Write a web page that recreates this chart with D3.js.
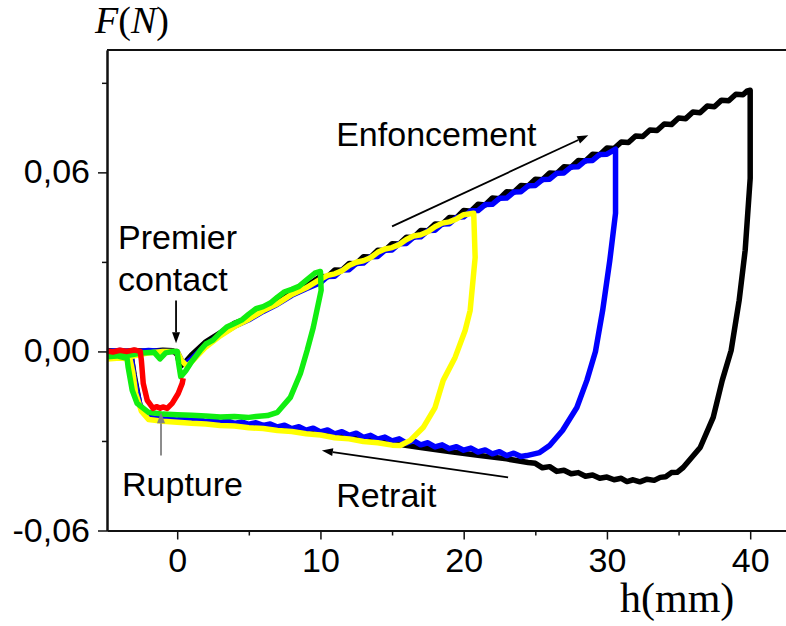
<!DOCTYPE html>
<html>
<head>
<meta charset="utf-8">
<script src="https://cdn.jsdelivr.net/npm/d3@7"></script>
<style>
html,body{margin:0;padding:0;background:#fff;}
svg{display:block;}
</style>
</head>
<body>
<svg id="chart" width="786" height="626"></svg>
<script>
// ---------- data (h in mm, F in N) ----------
const xMajorTicks = [0, 10, 20, 30, 40];
const xMinorTicks = [5, 15, 25, 35];
const yMajorTicks = [-0.06, 0, 0.06];
const yMinorTicks = [-0.03, 0.03, 0.09];

const blackH = [-4.9,-4,-3,-2,-1,-0.3,0,0.2,0.5,1,2,3,4,5,6,7,8,9,
  10,10.5,11,11.5,12,12.5,13,13.5,14,14.5,15,15.5,16,16.5,17,17.5,18,18.5,19,19.5,20,20.5,21,21.5,22,22.5,23,23.5,24,24.5,25,25.5,26,26.5,27,27.5,28,28.5,29,29.5,30,30.5,31,31.5,32,32.5,33,33.5,34,34.5,35,35.5,36,36.5,37,37.5,38,38.5,39,39.5,39.8,40,
  40,39.65,39.23,38.67,38.05,37.42,36.51,35.32,34.9,34.5,34.1,33.72,33.3,32.8,32.3,31.83,31.4,31,30.5,30,29.5,29,28.5,28,27.5,27,26.5,26,25.5,25,24.5,
  23,21,19,17,15,13,11,9,7,5,3,1,0,-1,-2,-2.6,-3,-3.2,-3.5,-4.9];
const blackF = [0.0003,-0.0002,0.0003,0.0,0.0004,0.0002,-0.001,-0.005,-0.004,-0.0012,0.0032,0.0062,0.0094,0.0113,0.0143,0.0166,0.0198,0.0218,
  0.0251,0.0250,0.0273,0.0272,0.0295,0.0294,0.0317,0.0316,0.0339,0.0338,0.0361,0.0360,0.0383,0.0382,0.0405,0.0404,0.0427,0.0426,0.0449,0.0448,0.0472,0.0470,0.0493,0.0491,0.0514,0.0512,0.0535,0.0533,0.0556,0.0554,0.0577,0.0575,0.0598,0.0596,0.0619,0.0617,0.0640,0.0638,0.0661,0.0659,0.0682,0.0680,0.0702,0.0700,0.0722,0.0720,0.0742,0.0740,0.0762,0.0760,0.0782,0.0780,0.0802,0.0800,0.0822,0.0820,0.0842,0.0840,0.0862,0.0860,0.0873,0.0875,
  0.058,0.0339,0.0171,0.0003,-0.0097,-0.0221,-0.0322,-0.0389,-0.0405,-0.0406,-0.0420,-0.0422,-0.0432,-0.0428,-0.0437,-0.0430,-0.0436,-0.0425,-0.0430,-0.0421,-0.0425,-0.0414,-0.0418,-0.0406,-0.0410,-0.0398,-0.0402,-0.0386,-0.0390,-0.0375,-0.0372,
  -0.0360,-0.0348,-0.0335,-0.0322,-0.0308,-0.0295,-0.0280,-0.0268,-0.0258,-0.0250,-0.0242,-0.0236,-0.0232,-0.0228,-0.0222,-0.018,-0.008,-0.002,0.0,0.0];

const blueH = [-4.9,-4,-3,-2,-1,0,0.3,0.6,1,2,3,4,5,6,7,8,9,
  10,10.5,11,11.5,12,12.5,13,13.5,14,14.5,15,15.5,16,16.5,17,17.5,18,18.5,19,19.5,20,20.5,21,21.5,22,22.5,23,23.5,24,24.5,25,25.5,26,26.5,27,27.5,28,28.5,29,29.5,30,30.6,
  30.6,30.2,29.7,29.2,28.6,27.9,26.9,26.0,25.3,24.4,
  24,23.5,23,22.5,22,21.5,21,20.5,20,19.5,19,18.5,18,17.5,17,16.5,16,15.5,15,14.5,14,13.5,13,12.5,12,11.5,11,10.5,10,9.5,9,8.5,8,7.5,7,6.5,6,5.5,5,4.5,4,3.5,3,2.5,2,1.5,1,0.5,0,
  -1,-2,-2.6,-3,-3.2,-3.5,-4.9];
const blueF = [0.0,0.0003,-0.0002,0.0003,0.0,0.0,-0.003,-0.004,-0.0025,0.0022,0.0055,0.0084,0.0106,0.0134,0.0158,0.0188,0.0210,
  0.0230,0.0251,0.0252,0.0273,0.0274,0.0295,0.0296,0.0317,0.0318,0.0339,0.0340,0.0361,0.0362,0.0383,0.0384,0.0405,0.0406,0.0427,0.0428,0.0449,0.0451,0.0471,0.0472,0.0492,0.0493,0.0513,0.0514,0.0534,0.0535,0.0555,0.0556,0.0576,0.0577,0.0597,0.0598,0.0618,0.0619,0.0639,0.0640,0.0660,0.0661,0.0678,
  0.0463,0.0305,0.0137,0.0,-0.0097,-0.0188,-0.0265,-0.0315,-0.0339,-0.0349,
  -0.0352,-0.0341,-0.0349,-0.0336,-0.0343,-0.0330,-0.0337,-0.0324,-0.0331,-0.0319,-0.0326,-0.0313,-0.0320,-0.0306,-0.0313,-0.0299,-0.0307,-0.0293,-0.0300,-0.0287,-0.0294,-0.0281,-0.0288,-0.0274,-0.0281,-0.0269,-0.0276,-0.0263,-0.0270,-0.0257,-0.0264,-0.0252,-0.0259,-0.0247,-0.0253,-0.0243,-0.0248,-0.0239,-0.0244,-0.0236,-0.0241,-0.0233,-0.0238,-0.0231,-0.0235,-0.0228,-0.0233,-0.0226,-0.0230,
  -0.0226,-0.0222,-0.018,-0.009,-0.002,0.0,0.0];

const yellowH = [-4.9,-4,-3,-2,-1,0,0.3,0.7,1,2,3,4,5,6,7,8,9,10,10.5,11,11.5,12,12.5,13,13.5,14,14.5,15,15.5,16,16.5,17,17.5,18,18.5,19,19.5,20,20.7,
  20.8,20.45,20.1,19.4,18.57,18.0,17.17,16.27,15.57,15,14,13,12,11,10,9,8,7,6,5,4,3,2,1,0,-1,-2,-2.5,-2.9,-3.1,-3.3,-4,-4.9];
const yellowF = [-0.0025,-0.0020,-0.0015,-0.0005,0.0,0.0,-0.003,-0.005,-0.0035,0.0015,0.0052,0.0083,0.0108,0.0137,0.0160,0.0191,0.0213,0.0242,0.0255,0.0260,0.0270,0.0288,0.0299,0.0304,0.0314,0.0332,0.0343,0.0348,0.0358,0.0375,0.0387,0.0391,0.0401,0.0418,0.0430,0.0434,0.0444,0.0458,0.0463,
  0.0315,0.0137,0.007,-0.002,-0.0097,-0.0188,-0.0255,-0.0298,-0.0315,-0.0314,-0.0306,-0.0302,-0.0293,-0.0289,-0.0280,-0.0276,-0.0268,-0.0265,-0.0258,-0.0256,-0.0250,-0.0248,-0.0243,-0.0241,-0.0237,-0.0234,-0.0228,-0.020,-0.014,-0.007,-0.0025,-0.0022,-0.0025];

const greenH = [-4.9,-4,-3.4,-2.5,-1.6,-1.2,-0.8,-0.3,0,0.1,0.25,0.6,1,1.6,2,2.5,3,3.5,4,4.5,5,5.5,6,6.5,7,7.5,8,8.5,9,9.6,10,
  10.05,9.5,9.07,8.6,7.9,7.0,6.3,5.5,5,4,3,2,1,0,-1,-2,-2.8,-3.14,-3.42,-3.5,-4.2,-4.9];
const greenF = [-0.0015,-0.001,-0.0013,-0.0005,-0.0003,-0.0025,-0.0005,0.0,0.0,-0.004,-0.0085,-0.0065,-0.0035,0.0003,0.0025,0.0038,0.0062,0.0083,0.0094,0.0105,0.0125,0.0143,0.0150,0.0162,0.0182,0.0200,0.0208,0.0218,0.0238,0.0262,0.0268,
  0.0205,0.008,0.0003,-0.0074,-0.0154,-0.0204,-0.0215,-0.0218,-0.0221,-0.0218,-0.0220,-0.0216,-0.0214,-0.0212,-0.021,-0.0204,-0.0174,-0.013,-0.0054,-0.0023,-0.0015,-0.0018];

const redH = [0.42,0.35,0.07,-0.35,-0.7,-1.0,-1.19,-1.45,-1.68,-2.09,-2.37,-2.5,-2.58,-3,-3.5,-4,-4.5,-4.9];
const redF = [-0.009,-0.0107,-0.0141,-0.0174,-0.0191,-0.0186,-0.0190,-0.0185,-0.0191,-0.0164,-0.0107,-0.003,0.0,0.0005,0.0,0.0004,-0.0002,0.0002];

const seriesColors = ["#000000", "#0000ff", "#ffff00", "#11ee11", "#ff0000"];

// ---------- setup ----------
const svg = d3.select("#chart");
const x = d3.scaleLinear().domain([-4.9, 42.5]).range([107, 786]);
const y = d3.scaleLinear().domain([-0.06, 0.101]).range([530.5, 50]);

const fmt = v => d3.format(".2f")(v).replace(".", ",").replace("−", "-");
const sans = "'Liberation Sans', Arial, sans-serif";
const serif = "'Liberation Serif', 'Times New Roman', serif";

// curves
const line = d3.line().x(d => x(d[0])).y(d => y(d[1])).curve(d3.curveLinear);
const all = [[blackH, blackF], [blueH, blueF], [yellowH, yellowF], [greenH, greenF], [redH, redF]];
all.forEach(([hs, fs], i) => {
  const pts = hs.map((h, k) => [h, fs[k]]);
  svg.append("path").datum(pts)
    .attr("d", line)
    .attr("fill", "none")
    .attr("stroke", seriesColors[i])
    .attr("stroke-width", 5.5)
    .attr("stroke-linejoin", "round")
    .attr("stroke-linecap", "butt");
});

// axes
const axisColor = "#111";
const gL = svg.append("g").attr("transform", `translate(${x.range()[0]},0)`)
  .call(d3.axisLeft(y).tickValues(yMajorTicks).tickSize(9).tickSizeOuter(0).tickPadding(8).tickFormat(fmt));
const gLm = svg.append("g").attr("transform", `translate(${x.range()[0]},0)`)
  .call(d3.axisLeft(y).tickValues(yMinorTicks).tickSize(5).tickSizeOuter(0).tickFormat(""));
const gB = svg.append("g").attr("transform", `translate(0,${y.range()[0]})`)
  .call(d3.axisBottom(x).tickValues(xMajorTicks).tickSize(9).tickSizeOuter(0).tickPadding(8).tickFormat(d3.format("d")));
const gBm = svg.append("g").attr("transform", `translate(0,${y.range()[0]})`)
  .call(d3.axisBottom(x).tickValues(xMinorTicks).tickSize(5).tickSizeOuter(0).tickFormat(""));
[gL, gLm, gB, gBm].forEach(g => {
  g.select(".domain").attr("stroke", axisColor).attr("stroke-width", 2);
  g.selectAll(".tick line").attr("stroke", axisColor).attr("stroke-width", 1.5);
  g.selectAll("text").attr("font-family", sans).attr("font-size", 34).attr("fill", "#000");
});
gL.selectAll("text").attr("dy", "0.31em").attr("x", -17);
gB.selectAll("text").attr("dy", "0.71em").attr("y", 17);
// top frame line
svg.append("line").attr("x1", x.range()[0]).attr("x2", x.range()[1])
  .attr("y1", y.range()[1]).attr("y2", y.range()[1])
  .attr("stroke", axisColor).attr("stroke-width", 2);

// axis titles
const ft = svg.append("text").attr("x", 95).attr("y", 33).attr("font-family", serif).attr("font-size", 38);
ft.append("tspan").attr("font-style", "italic").text("F");
ft.append("tspan").text("(");
ft.append("tspan").attr("font-style", "italic").text("N");
ft.append("tspan").text(")");
svg.append("text").attr("x", 620).attr("y", 612).attr("font-family", serif).attr("font-size", 42).text("h(mm)");

// annotations
const arrows = [
  {from: [15.0, 0.0419], to: [28.7, 0.0724], color: "#000"},
  {from: [23.1, -0.0422], to: [10.1, -0.0332], color: "#000"},
  {from: [-0.08, 0.0171], to: [-0.08, 0.0027], color: "#000"},
  {from: [-1.13, -0.0349], to: [-1.13, -0.0204], color: "#808080"}
];
arrows.forEach(a => {
  const x1 = x(a.from[0]), y1 = y(a.from[1]), x2 = x(a.to[0]), y2 = y(a.to[1]);
  const ang = Math.atan2(y2 - y1, x2 - x1);
  const L = 11, W = 4;
  const bx = x2 - L * Math.cos(ang), by = y2 - L * Math.sin(ang);
  svg.append("line").attr("x1", x1).attr("y1", y1).attr("x2", bx).attr("y2", by)
    .attr("stroke", a.color).attr("stroke-width", 1.8);
  const p = [[x2, y2],
    [bx + W * Math.sin(ang), by - W * Math.cos(ang)],
    [bx - W * Math.sin(ang), by + W * Math.cos(ang)]];
  svg.append("polygon").attr("points", p.map(q => q.join(",")).join(" ")).attr("fill", a.color);
});
const labels = [
  {t: "Enfoncement", h: 11.1, f: 0.069},
  {t: "Premier", h: -4.13, f: 0.0342},
  {t: "contact", h: -4.13, f: 0.0204},
  {t: "Rupture", h: -3.85, f: -0.0483},
  {t: "Retrait", h: 11.1, f: -0.0522}
];
labels.forEach(l => {
  svg.append("text").attr("x", x(l.h)).attr("y", y(l.f))
    .attr("font-family", sans).attr("font-size", 34).attr("fill", "#000").text(l.t);
});
</script>
</body>
</html>
